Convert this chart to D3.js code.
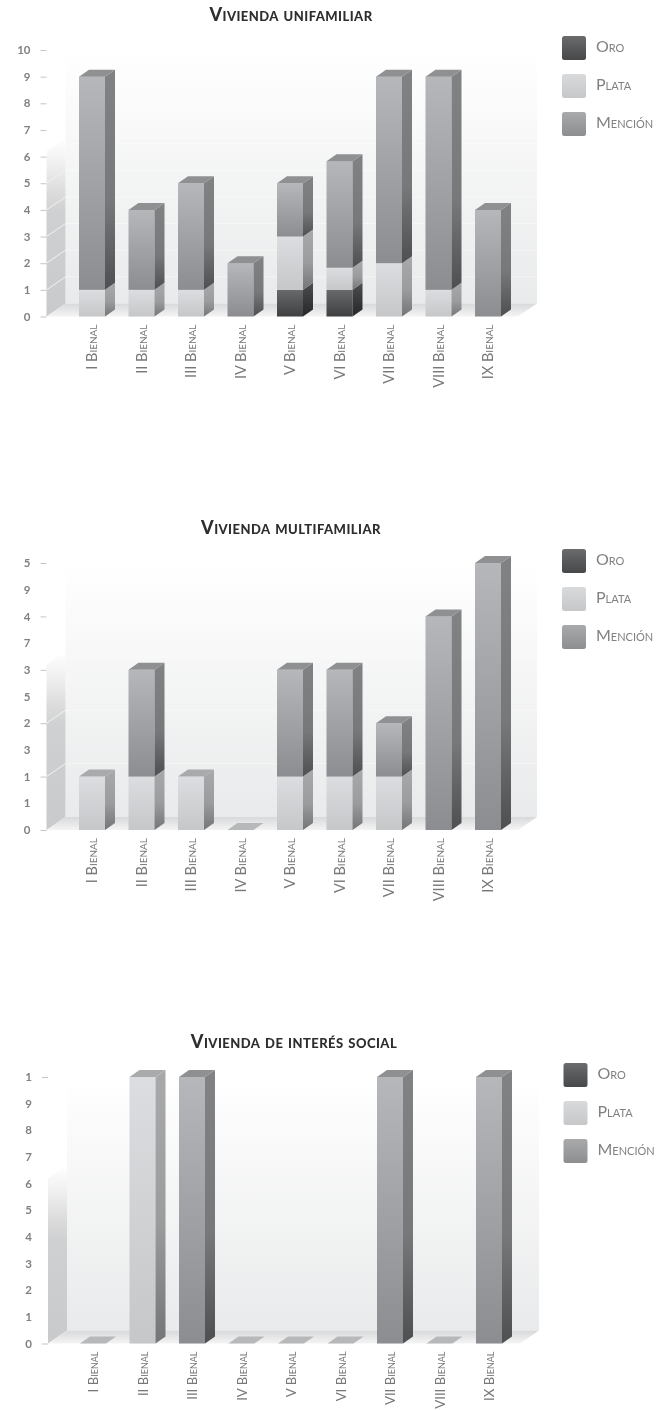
<!doctype html>
<html>
<head>
<meta charset="utf-8">
<script src="https://d3js.org/d3.v7.min.js"></script>
<style>
    html, body { margin: 0; padding: 0; background: #fff; }
    svg { display: block; filter: blur(0.6px); }
    text { font-family: Lato, "Open Sans", sans-serif; font-variant: small-caps; }
    .title { font-weight: 900; font-size: 18px; letter-spacing: 0.45px; fill: #2e2e30; text-anchor: middle; }
    .cat { fill: #77787a; }
    .tick-label { font-size: 11.5px; fill: #808183; font-variant: normal; font-weight: 700; }
    .legend-label { font-size: 16px; fill: #808183; }
</style>
</head>
<body>
<svg width="661" height="1410"></svg>
<script>
    const categories = ["I Bienal", "II Bienal", "III Bienal", "IV Bienal", "V Bienal",
        "VI Bienal", "VII Bienal", "VIII Bienal", "IX Bienal"];
    const seriesNames = ["Oro", "Plata", "Mención"];

    // vivienda unifamiliar
    const oroUni     = [0, 0, 0, 0, 1, 1, 0, 0, 0];
    const plataUni   = [1, 1, 1, 0, 2, 0.83, 2, 1, 0];
    const mencionUni = [8, 3, 4, 2, 2, 4, 7, 8, 4];
    const ticksUni   = [0, 1, 2, 3, 4, 5, 6, 7, 8, 9, 10];
    const labelsUni  = ["0", "1", "2", "3", "4", "5", "6", "7", "8", "9", "10"];

    // vivienda multifamiliar (the odd tick labels are as printed)
    const oroMulti     = [0, 0, 0, 0, 0, 0, 0, 0, 0];
    const plataMulti   = [1, 1, 1, 0, 1, 1, 1, 0, 0];
    const mencionMulti = [0, 2, 0, 0, 2, 2, 1, 4, 5];
    const ticksMulti   = [0, 0.5, 1, 1.5, 2, 2.5, 3, 3.5, 4, 4.5, 5];
    const labelsMulti  = ["0", "1", "1", "3", "2", "5", "3", "7", "4", "9", "5"];

    // vivienda de interes social
    const oroSocial     = [0, 0, 0, 0, 0, 0, 0, 0, 0];
    const plataSocial   = [0, 1, 0, 0, 0, 0, 0, 0, 0];
    const mencionSocial = [0, 0, 1, 0, 0, 0, 1, 0, 1];
    const ticksSocial   = [0, 0.1, 0.2, 0.3, 0.4, 0.5, 0.6, 0.7, 0.8, 0.9, 1];
    const labelsSocial  = ["0", "1", "2", "3", "4", "5", "6", "7", "8", "9", "1"];

    let svg = d3.select("svg");
    let defs = svg.append("defs");

    function gradient(id, stops, horizontal) {
        let g = defs.append("linearGradient").attr("id", id)
            .attr("x1", 0).attr("y1", 0)
            .attr("x2", horizontal ? 1 : 0).attr("y2", horizontal ? 0 : 1);
        stops.forEach((s) => g.append("stop").attr("offset", s[0]).attr("stop-color", s[1])
            .attr("stop-opacity", s[2] === undefined ? 1 : s[2]));
    }

    gradient("front-0", [[0, "#68696b"], [1, "#3f4042"]]);
    gradient("side-0", [[0, "#4c4d4f"], [1, "#262728"]]);
    gradient("front-1", [[0, "#dcdde0"], [1, "#c6c7c9"]]);
    gradient("side-1", [[0, "#a8a9ab"], [0.55, "#9b9c9e"], [1, "#747577"]]);
    gradient("front-2", [[0, "#b6b7ba"], [1, "#8c8d90"]]);
    gradient("side-2", [[0, "#818284"], [0.6, "#77787a"], [1, "#4e4f51"]]);
    gradient("wall-back", [[0, "#ffffff"], [1, "#e9eaeb"]]);
    gradient("wall-side", [[0, "#ffffff"], [0.15, "#efefef"], [0.3, "#dcdcdc"], [0.42, "#cfd0d1"], [1, "#c9cacb"]]);
    gradient("floor", [[0, "#d8d9da"], [1, "#f4f4f5"]]);
    gradient("legend-0", [[0, "#6a6b6d"], [1, "#47484a"]]);
    gradient("legend-1", [[0, "#d9dadc"], [1, "#c6c7c9"]]);
    gradient("legend-2", [[0, "#a9aaac"], [1, "#8d8e90"]]);

    const topColors = ["#4f5052", "#a9aaac", "#8f9092"];
    const depthX = 19, depthY = 13;     // depth of the floor
    const barDepthX = 10, barDepthY = 7;

    function poly(points) {
        return "M" + points.map((p) => p.join(",")).join("L") + "Z";
    }

    function drawChart(opt) {
        let g = svg.append("g");

        let x = d3.scaleBand()
            .domain(categories)
            .range([opt.barLeft, opt.barLeft + 8 * 49.5 + 26])
            .paddingInner(1 - 26 / 49.5)
            .paddingOuter(0);
        let y = d3.scaleLinear()
            .domain([0, d3.max(opt.ticks)])
            .range([opt.bottom, opt.top]);

        let wallL = opt.wallLeft;
        let wallR = opt.wallRight;
        let y0 = y(0), yTop = y(d3.max(opt.ticks));

        // back wall, side wall, floor
        g.append("rect").attr("x", wallL + depthX).attr("y", yTop)
            .attr("width", wallR - wallL - depthX).attr("height", y0 - depthY - yTop)
            .attr("fill", "url(#wall-back)");
        g.append("path")
            .attr("d", poly([[wallL, y0], [wallL + depthX, y0 - depthY],
                [wallL + depthX, yTop + (y0 - yTop) * 0.38 - depthY],
                [wallL, yTop + (y0 - yTop) * 0.38]]))
            .attr("fill", "url(#wall-side)");
        g.append("path")
            .attr("d", poly([[wallL, y0], [wallL + depthX, y0 - depthY],
                [wallR, y0 - depthY], [wallR - depthX, y0]]))
            .attr("fill", "url(#floor)");

        // grid on integer ticks
        let whole = opt.ticks.filter((t) => Number.isInteger(t) && t > 0);
        g.append("g").selectAll("line.back").data(whole).enter().append("line")
            .attr("x1", wallL + depthX).attr("x2", wallR)
            .attr("y1", (d) => y(d) - depthY).attr("y2", (d) => y(d) - depthY)
            .attr("stroke", "#fff").attr("stroke-opacity", 0.45);
        g.append("g").selectAll("line.side")
            .data(whole.filter((d) => y(d) > yTop + (y0 - yTop) * 0.45)).enter().append("line")
            .attr("x1", wallL).attr("x2", wallL + depthX)
            .attr("y1", (d) => y(d)).attr("y2", (d) => y(d) - depthY)
            .attr("stroke", "#f2f2f3");

        // y axis, tick marks only on whole numbers
        let axis = d3.axisLeft(y)
            .tickValues(opt.ticks)
            .tickFormat((d, i) => opt.tickLabels[i])
            .tickSize(6)
            .tickPadding(10);
        let ax = g.append("g").attr("transform", `translate(${wallL},0)`).call(axis);
        ax.select(".domain").remove();
        ax.selectAll(".tick line").attr("stroke", "#c4c5c6")
            .attr("stroke-opacity", (d) => Number.isInteger(d) ? 1 : 0);
        ax.selectAll(".tick text").attr("class", "tick-label").attr("fill", null);
        ax.attr("font-family", null).attr("font-size", null);

        // stacked bars
        let rows = categories.map((c, i) => ({
            cat: c, s0: opt.oro[i], s1: opt.plata[i], s2: opt.mencion[i]
        }));
        let stacked = d3.stack().keys(["s0", "s1", "s2"])(rows);

        stacked.forEach((layer, k) => {
            layer.forEach((d) => {
                if (d[1] - d[0] <= 0) return;
                let xl = x(d.data.cat), xr = xl + x.bandwidth();
                let yb = y(d[0]), yt = y(d[1]);
                g.append("rect").attr("x", xl).attr("y", yt)
                    .attr("width", x.bandwidth()).attr("height", yb - yt)
                    .attr("fill", `url(#front-${k})`);
                g.append("path")
                    .attr("d", poly([[xr, yb], [xr + barDepthX, yb - barDepthY],
                        [xr + barDepthX, yt - barDepthY], [xr, yt]]))
                    .attr("fill", `url(#side-${k})`);
                // only the highest segment shows its lid
                let total = d.data.s0 + d.data.s1 + d.data.s2;
                if (d[1] === total) {
                    g.append("path")
                        .attr("d", poly([[xl, yt], [xl + barDepthX, yt - barDepthY],
                            [xr + barDepthX, yt - barDepthY], [xr, yt]]))
                        .attr("fill", topColors[k]);
                }
            });
        });

        // empty editions still get a flat lid on the floor
        rows.filter((r) => r.s0 + r.s1 + r.s2 === 0).forEach((r) => {
            let xl = x(r.cat), xr = xl + x.bandwidth();
            g.append("path")
                .attr("d", poly([[xl, y0], [xl + barDepthX, y0 - barDepthY],
                    [xr + barDepthX, y0 - barDepthY], [xr, y0]]))
                .attr("fill", "#b7b8ba");
        });

        // category labels
        g.append("g").selectAll("text").data(categories).enter().append("text")
            .attr("class", "cat")
            .attr("font-size", opt.catSize)
            .attr("text-anchor", "end")
            .attr("transform", (d) =>
                `translate(${x(d) + x.bandwidth() / 2 + 5},${y0 + 8}) rotate(-90)`)
            .text((d) => d);

        // title
        g.append("text").attr("class", "title")
            .attr("x", opt.titleX).attr("y", opt.titleY).text(opt.title);

        // legend
        let leg = g.append("g").selectAll("g").data(seriesNames).enter().append("g")
            .attr("transform", (d, i) => `translate(${opt.legendX},${opt.legendY + i * 38})`);
        leg.append("rect").attr("width", 24).attr("height", 24).attr("rx", 2.5)
            .attr("fill", (d, i) => `url(#legend-${i})`);
        leg.append("text").attr("class", "legend-label")
            .attr("x", 34).attr("y", 16).text((d) => d);
    }

    drawChart({
        title: "Vivienda unifamiliar", titleX: 291, titleY: 21,
        oro: oroUni, plata: plataUni, mencion: mencionUni,
        ticks: ticksUni, tickLabels: labelsUni, catSize: 14.5,
        top: 50, bottom: 316.5, barLeft: 79, wallLeft: 46.5, wallRight: 537,
        legendX: 562, legendY: 36
    });
    drawChart({
        title: "Vivienda multifamiliar", titleX: 291, titleY: 534,
        oro: oroMulti, plata: plataMulti, mencion: mencionMulti,
        ticks: ticksMulti, tickLabels: labelsMulti, catSize: 14.5,
        top: 563, bottom: 830, barLeft: 79, wallLeft: 46.5, wallRight: 537,
        legendX: 562, legendY: 549
    });
    drawChart({
        title: "Vivienda de interés social", titleX: 294, titleY: 1048,
        oro: oroSocial, plata: plataSocial, mencion: mencionSocial,
        ticks: ticksSocial, tickLabels: labelsSocial, catSize: 13.2,
        top: 1077, bottom: 1343.5, barLeft: 80, wallLeft: 48, wallRight: 539,
        legendX: 563.5, legendY: 1063
    });
</script>
</body>
</html>
